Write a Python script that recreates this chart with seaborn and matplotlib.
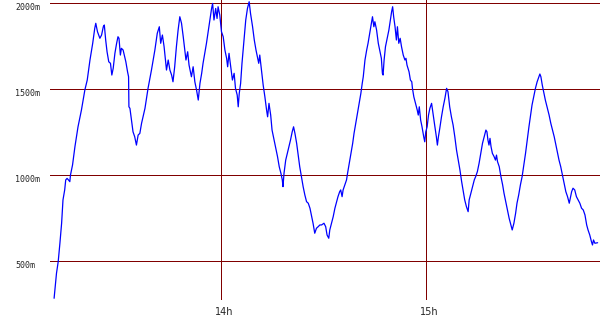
import matplotlib
matplotlib.use("Agg")
import matplotlib.pyplot as plt
import matplotlib.transforms as mtransforms
import pandas as pd
import seaborn as sns

# time in minutes after 13:00, altitude in metres
minutes = [11.2, 11.9, 12.4, 12.9, 13.4, 13.8, 14.3, 14.6, 15.0, 15.4, 15.8, 16.0, 16.6, 17.3, 18.2, 19.2,
           20.2, 20.9, 21.7, 22.5, 23.1, 23.4, 23.9, 24.6, 25.1, 25.6, 25.9, 26.3, 26.7, 27.2, 27.7, 28.1,
           28.5, 29.0, 29.5, 29.9, 30.2, 30.6, 30.9, 31.4, 32.2, 32.7, 33.0, 33.1, 33.4, 33.9, 34.3, 34.8,
           35.3, 35.8, 36.3, 36.8, 37.8, 38.7, 39.7, 40.7, 41.4, 42.0, 42.4, 42.9, 43.4, 44.1, 44.6, 45.1,
           45.6, 46.0, 46.5, 47.0, 47.5, 48.0, 48.5, 49.0, 49.8, 50.3, 50.7, 51.4, 51.9, 52.4, 52.9, 53.4,
           53.9, 54.4, 54.8, 55.3, 55.8, 56.3, 56.8, 57.3, 57.6, 58.0, 58.5, 58.9, 59.2, 59.7, 60.2, 60.7,
           61.2, 61.7, 62.0, 62.4, 62.9, 63.4, 63.9, 64.3, 64.8, 65.1, 65.4, 65.8, 66.2, 66.8, 67.3, 67.8,
           68.3, 68.7, 69.3, 69.8, 70.3, 70.7, 71.1, 71.4, 71.9, 72.4, 72.9, 73.4, 73.7, 74.1, 74.6, 75.0,
           75.6, 76.1, 76.6, 77.1, 77.6, 78.0, 78.2, 78.5, 79.0, 79.7, 80.4, 80.9, 81.3, 81.7, 82.2, 82.6,
           83.1, 83.6, 84.1, 84.6, 85.1, 85.6, 86.1, 86.6, 87.0, 87.5, 88.0, 88.5, 89.0, 89.5, 90.2, 90.7,
           91.1, 91.6, 91.9, 92.4, 92.9, 93.4, 93.9, 94.3, 94.8, 95.1, 95.5, 95.8, 96.3, 96.8, 97.1, 97.6,
           98.1, 98.6, 99.0, 99.5, 100.0, 100.5, 101.0, 101.4, 101.7, 102.2, 102.7, 103.1, 103.6, 104.1, 104.4, 104.8,
           105.1, 105.6, 106.1, 106.5, 107.0, 107.3, 107.5, 107.8, 108.2, 108.7, 109.2, 109.7, 110.0, 110.3, 110.6, 111.0,
           111.4, 111.7, 112.1, 112.5, 112.9, 113.4, 113.9, 114.2, 114.5, 115.1, 115.5, 115.9, 116.1, 116.5, 117.0, 117.5,
           117.8, 118.1, 118.5, 118.9, 119.4, 119.7, 120.0, 120.4, 120.8, 121.2, 121.7, 122.1, 122.6, 123.1, 123.4, 123.7,
           124.1, 124.6, 125.1, 125.6, 126.1, 126.5, 127.0, 127.5, 128.0, 128.5, 129.0, 129.5, 130.0, 130.5, 130.9, 131.4,
           131.9, 132.4, 132.7, 133.2, 133.7, 134.2, 134.6, 135.1, 135.6, 136.1, 136.6, 137.1, 137.6, 137.9, 138.2, 138.5,
           138.8, 139.1, 139.5, 140.0, 140.4, 140.7, 141.0, 141.5, 142.0, 142.5, 142.9, 143.4, 143.9, 144.4, 144.9, 145.3,
           145.8, 146.3, 146.7, 147.2, 147.7, 148.2, 148.7, 149.2, 149.7, 150.2, 150.7, 151.1, 151.6, 152.1, 152.6, 153.1,
           153.4, 153.7, 154.1, 154.5, 155.0, 155.6, 156.1, 156.6, 157.1, 157.6, 158.1, 158.6, 159.0, 159.5, 160.0, 160.5,
           161.0, 161.5, 162.0, 162.4, 162.7, 163.1, 163.6, 164.1, 164.6, 165.1, 165.6, 166.1, 166.6, 167.1, 167.5, 168.0,
           168.5, 168.8, 169.1, 169.5, 170.3]
altitude = [286, 431, 498, 605, 721, 856, 914, 972, 981, 972, 962, 1001, 1059, 1165, 1280, 1377,
            1493, 1551, 1667, 1764, 1851, 1880, 1831, 1793, 1812, 1860, 1870, 1783, 1715, 1657, 1648, 1580,
            1619, 1706, 1764, 1802, 1793, 1696, 1735, 1725, 1657, 1599, 1570, 1396, 1387, 1309, 1251, 1222,
            1174, 1232, 1242, 1300, 1387, 1503, 1609, 1725, 1822, 1860, 1764, 1812, 1744, 1609, 1667, 1609,
            1580, 1541, 1628, 1744, 1841, 1918, 1880, 1802, 1667, 1715, 1638, 1570, 1628, 1541, 1493, 1435,
            1532, 1590, 1648, 1706, 1764, 1831, 1899, 1966, 1995, 1899, 1966, 1908, 1976, 1928, 1831, 1802,
            1725, 1677, 1628, 1706, 1628, 1551, 1590, 1503, 1464, 1396, 1474, 1532, 1648, 1783, 1899, 1966,
            2005, 1937, 1860, 1783, 1725, 1686, 1648, 1696, 1609, 1522, 1454, 1377, 1338, 1416, 1348, 1261,
            1203, 1155, 1107, 1049, 1010, 972, 933, 1010, 1087, 1145, 1203, 1251, 1280, 1242, 1184, 1126,
            1049, 991, 933, 885, 846, 837, 808, 759, 721, 663, 692, 701, 711, 711, 721, 701,
            653, 634, 682, 721, 759, 808, 846, 875, 904, 914, 875, 914, 943, 972, 1010, 1068,
            1126, 1184, 1242, 1300, 1358, 1416, 1474, 1532, 1570, 1667, 1725, 1764, 1822, 1880, 1918, 1860,
            1889, 1841, 1764, 1725, 1677, 1590, 1580, 1667, 1744, 1793, 1841, 1908, 1947, 1976, 1918, 1860,
            1783, 1860, 1764, 1793, 1744, 1696, 1667, 1677, 1638, 1599, 1551, 1541, 1503, 1454, 1416, 1377,
            1348, 1396, 1319, 1280, 1222, 1193, 1251, 1280, 1348, 1387, 1416, 1358, 1290, 1222, 1174, 1222,
            1271, 1338, 1396, 1445, 1503, 1483, 1396, 1338, 1290, 1222, 1145, 1087, 1030, 962, 914, 856,
            817, 788, 856, 895, 933, 972, 991, 1020, 1068, 1126, 1184, 1222, 1261, 1251, 1203, 1174,
            1213, 1165, 1126, 1107, 1087, 1116, 1078, 1049, 991, 943, 895, 846, 798, 750, 711, 682,
            721, 779, 837, 885, 943, 991, 1059, 1126, 1203, 1280, 1348, 1406, 1454, 1503, 1541, 1570,
            1586, 1570, 1522, 1483, 1435, 1387, 1348, 1300, 1261, 1222, 1174, 1126, 1087, 1049, 1001, 952,
            904, 875, 837, 875, 904, 924, 914, 875, 856, 837, 808, 798, 769, 711, 682, 653,
            614, 595, 624, 605, 608]

hour_ticks = [60, 120]
hour_labels = ["14h", "15h"]
alt_ticks = [500, 1000, 1500, 2000]
alt_labels = ["500m", "1000m", "1500m", "2000m"]

sns.set_style("white")
plt.rcParams["font.family"] = ["DejaVu Sans"]

fig = plt.figure(figsize=(6, 3.3), dpi=100)
ax = fig.add_axes([50 / 600, 30 / 330, 550 / 600, 300 / 330])

df = pd.DataFrame({"minutes": minutes, "altitude": altitude})
sns.lineplot(data=df, x="minutes", y="altitude", color="#0000ff", linewidth=0.9,
             estimator=None, sort=False, ax=ax)

ax.set_xlim(10, 171)
ax.set_ylim(276, 2015)
ax.set_xlabel("")
ax.set_ylabel("")
for s in ax.spines.values():
    s.set_visible(False)

ax.set_xticks(hour_ticks)
ax.set_xticklabels(hour_labels, fontsize=7, family="DejaVu Sans")
ax.set_yticks(alt_ticks)
ax.set_yticklabels(alt_labels, fontsize=6, family="DejaVu Sans Mono")
ax.tick_params(axis="both", length=0)
ax.tick_params(axis="x", pad=5)
ax.tick_params(axis="y", pad=25.2)

ax.grid(True, color="#800000", linewidth=0.72, antialiased=False)
ax.set_axisbelow(True)

dy = mtransforms.ScaledTranslation(0, -0.035, fig.dpi_scale_trans)
for lab in ax.get_yticklabels():
    lab.set_horizontalalignment("left")
    lab.set_transform(lab.get_transform() + dy)
dx = mtransforms.ScaledTranslation(0.03, 0, fig.dpi_scale_trans)
for lab in ax.get_xticklabels():
    lab.set_transform(lab.get_transform() + dx)

fig.savefig("out.png", dpi=100)
